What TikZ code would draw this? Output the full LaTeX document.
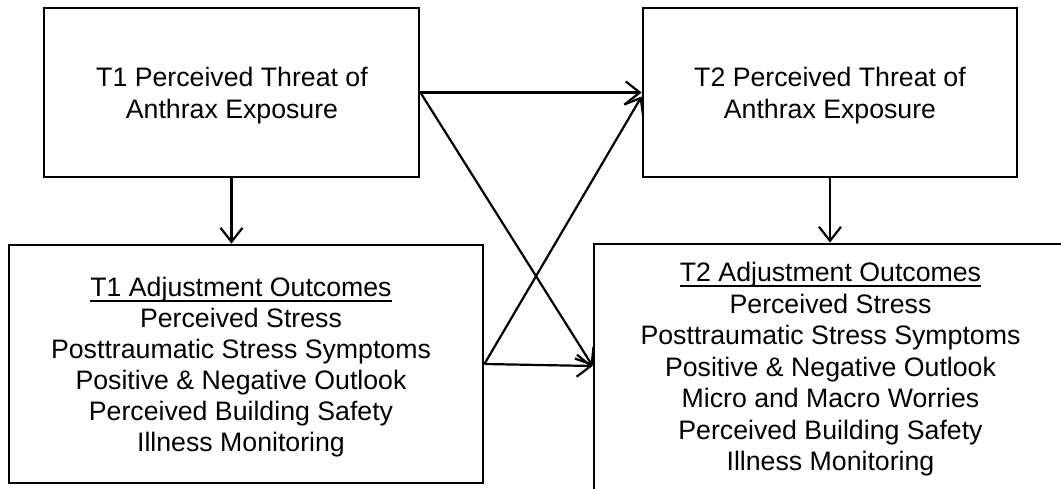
\documentclass[tikz,border=0pt]{standalone}
\usepackage{fontspec}
\setmainfont{Liberation Sans}
\usetikzlibrary{arrows.meta}
\newcommand\myul[1]{\setbox0\hbox{#1}\rlap{\rule[-5pt]{\wd0}{1.8pt}}\box0}
\tikzset{
  box/.style={draw=black, line width=2.8pt, inner sep=0pt},
  txt/.style={inner sep=0pt, align=center, font=\fontsize{26.7}{31.5}\selectfont},
  conn/.style={line width=2.2pt, -{Straight Barb[length=14pt,width=22pt,line width=2.2pt]}}
}
\begin{document}
\begin{tikzpicture}[x=1pt,y=-1pt]
\useasboundingbox (0,0) rectangle (1061,489);
\clip (0,0) rectangle (1061,489);
\fill[white] (0,0) rectangle (1061,489);
% boxes
\node[box, minimum width=375pt, minimum height=169pt] (t1) at (231.5,92.5) {};
\node[box, minimum width=374pt, minimum height=169pt] (t2) at (830,92.5) {};
\node[box, minimum width=474pt, minimum height=238pt] (o1) at (246,364) {};
\node[box, minimum width=473pt, minimum height=250pt] (o2) at (830.5,369) {};
% texts
\node[txt, font=\fontsize{26.7}{32}\selectfont] (t1txt) at (232,96) {T1 Perceived Threat of\\Anthrax Exposure};
\node[txt, font=\fontsize{26.7}{32}\selectfont] (t2txt) at (830,96) {T2 Perceived Threat of\\Anthrax Exposure};
\node[txt, font=\fontsize{26.7}{31}\selectfont] (o1txt) at (241,367.5) {\myul{T1 Adjustment Outcomes}\\Perceived Stress\\Posttraumatic Stress Symptoms\\Positive \& Negative Outlook\\Perceived Building Safety\\Illness Monitoring};
\node[txt, font=\fontsize{26.7}{31.5}\selectfont] (o2txt) at (830.5,369.5) {\myul{T2 Adjustment Outcomes}\\Perceived Stress\\Posttraumatic Stress Symptoms\\Positive \& Negative Outlook\\Micro and Macro Worries\\Perceived Building Safety\\Illness Monitoring};
% connectors
\draw[conn] (t1.south) -- (t1.south |- o1.north);
\draw[conn] (t2.south) -- (t2.south |- o2.north);
\draw[conn] (t1.east) -- (t2.west);
\draw[conn] (t1.east) -- ([yshift=3pt]o2.west);
\draw[conn] (o1.east) -- ([yshift=-4pt]t2.west);
\draw[conn] (o1.east) -- ([yshift=3pt]o2.west);
\end{tikzpicture}
\end{document}
